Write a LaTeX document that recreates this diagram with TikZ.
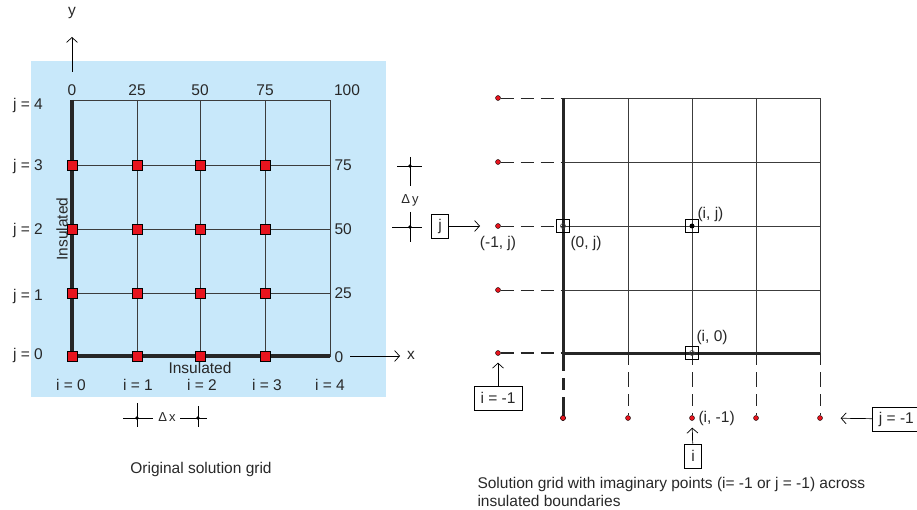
\documentclass[tikz,border=0pt]{standalone}
\usepackage{fontspec}
\setmainfont{Liberation Sans}
\usetikzlibrary{positioning,arrows.meta}
\definecolor{paleblue}{RGB}{200,232,250}
\definecolor{nodered}{RGB}{232,20,30}
\definecolor{gridgray}{RGB}{60,60,60}
\definecolor{inkgray}{RGB}{40,40,40}

\begin{document}
\begin{tikzpicture}[
        x=1pt,
        y=-1pt,
        font=\fontsize{15.5}{17}\selectfont,
        text=inkgray,
        >={Straight Barb[length=5pt,width=11pt]},
        heat/.style={
            rectangle,
            draw=black,
            fill=nodered,
            minimum size=10pt,
            inner sep=0pt,
            line width=0.6pt
        },
        ghost/.style={
            circle,
            draw=black,
            fill=nodered,
            minimum size=5pt,
            inner sep=0pt,
            line width=0.4pt
        },
        tagbox/.style={
            rectangle,
            draw=black,
            inner xsep=6.5pt,
            minimum height=24pt,
            line width=0.8pt
        },
        focus/.style={
            rectangle,
            draw=black,
            minimum size=13pt,
            inner sep=0pt,
            line width=0.8pt
        },
        gridline/.style={
            draw=gridgray,
            line width=0.8pt
        },
        edge/.style={
            draw=black!85,
            line width=3.5pt
        },
        imag/.style={
            draw=black!85,
            dash pattern=on 13pt off 7pt,
            line width=0.8pt
        },
        line/.style={
            draw=black,
            line width=0.7pt,
            ->
        },
      ]
        \useasboundingbox (0,0) rectangle (917,510);

        % original grid
        \fill [paleblue] (31,61) rectangle (386,397);
        \draw [gridline] (72,100) rectangle (330,356);
        \draw [gridline] (137,100) -- (137,356) (200,100) -- (200,356) (265,100) -- (265,356)
            (72,165) -- (330,165) (72,229) -- (330,229) (72,293) -- (330,293);
        \draw [edge] (72,100) -- (72,356) -- (330,356);
        \foreach \i/\x in {0/72,1/137,2/200,3/265}
            \foreach \j/\y in {0/356,1/293,2/229,3/165}
                \node [heat] (t-\i-\j) at (\x,\y) {};

        \node (top-0) at (72,90) {0};
        \node (top-25) at (137,90) {25};
        \node (top-50) at (200,90) {50};
        \node (top-75) at (265,90) {75};
        \node (top-100) at (347,90) {100};
        \node [anchor=west] (side-75) at (331,165) {75};
        \node [anchor=west] (side-50) at (331,229) {50};
        \node [anchor=west] (side-25) at (331,293) {25};
        \node [anchor=west] (side-0) at (331,357) {0};
        \node (row-4) at (28,105) {j = 4};
        \node (row-3) at (28,166) {j = 3};
        \node (row-2) at (28,230) {j = 2};
        \node (row-1) at (28,296) {j = 1};
        \node (row-0) at (28,355) {j = 0};
        \node (col-0) at (71,385) {i = 0};
        \node (col-1) at (138,385) {i = 1};
        \node (col-2) at (202,385) {i = 2};
        \node (col-3) at (267,385) {i = 3};
        \node (col-4) at (330,385) {i = 4};
        \node (insulated-bottom) at (200,368) {Insulated};
        \node [rotate=90] (insulated-left) at (62,229) {Insulated};

        \coordinate (y-base) at (72,72);
        \coordinate (y-tip) at (72,37);
        \node (y-label) at (72,13) {y};
        \path [line] (y-base) -- (y-tip);
        \coordinate (x-base) at (350,356);
        \coordinate (x-tip) at (400,356);
        \node (x-label) at (411,355) {x};
        \path [line] (x-base) -- (x-tip);

        % spacing marks
        \draw [line width=0.6pt] (123,418) -- (153,418) (137,403) -- (137,427)
            (180,418) -- (207,418) (198,406) -- (198,427);
        \fill (137,418) circle (1.8pt) (198,418) circle (1.8pt);
        \node [font=\fontsize{13}{15}\selectfont] (dx-label) at (167,417) {Δ\,x};
        \draw [line width=0.6pt] (397,166) -- (422,166) (410,157) -- (410,186)
            (392,227) -- (422,227) (410,212) -- (410,242);
        \fill (410,166) circle (1.8pt) (410,227) circle (1.8pt);
        \node [font=\fontsize{13}{15}\selectfont] (dy-label) at (410,200) {Δ\,y};

        \node (left-caption) at (201,469) {Original solution grid};

        % grid with imaginary points
        \draw [gridline] (563,98) rectangle (820,353);
        \draw [gridline] (628,98) -- (628,353) (692,98) -- (692,353) (756,98) -- (756,353)
            (563,162) -- (820,162) (563,226) -- (820,226) (563,290) -- (820,290);
        \draw [edge,line width=3pt] (563,98) -- (563,353) -- (820,353);

        \node [ghost] (ghost-4) at (498,98) {};
        \node [ghost] (ghost-3) at (498,162) {};
        \node [ghost] (ghost-2) at (498,226) {};
        \node [ghost] (ghost-1) at (498,290) {};
        \node [ghost] (ghost-0) at (498,353) {};
        \node [ghost] (ghost-i0) at (563,418) {};
        \node [ghost] (ghost-i1) at (628,418) {};
        \node [ghost] (ghost-i2) at (692,418) {};
        \node [ghost] (ghost-i3) at (756,418) {};
        \node [ghost] (ghost-i4) at (820,418) {};

        \path [imag] (ghost-4) -- (563,98);
        \path [imag] (ghost-3) -- (563,162);
        \path [imag] (ghost-2) -- (563,226);
        \path [imag] (ghost-1) -- (563,290);
        \path [imag,line width=2.5pt] (ghost-0) -- (563,353);
        \path [imag,line width=3pt,dash pattern=on 18pt off 7pt on 12pt off 7pt on 30pt off 0pt] (563,353) -- (ghost-i0.center);
        \path [imag,dash pattern=on 12pt off 7pt on 15pt off 7pt] (628,353) -- (ghost-i1);
        \path [imag,dash pattern=on 12pt off 7pt on 15pt off 7pt] (692,353) -- (ghost-i2);
        \path [imag,dash pattern=on 12pt off 7pt on 15pt off 7pt] (756,353) -- (ghost-i3);
        \path [imag,dash pattern=on 12pt off 7pt on 15pt off 7pt] (820,353) -- (ghost-i4);
        \node [ghost] at (ghost-i0) {};

        \node [focus] (point-0j) at (563,226) {};
        \draw [gridgray,line width=0.6pt] (point-0j.center) circle (2.5pt);
        \node [focus] (point-ij) at (692,226) {};
        \fill (point-ij.center) circle (2.5pt);
        \node [focus] (point-i0) at (692,353) {};
        \draw [gridgray,line width=0.6pt] (point-i0.center) circle (2.5pt);

        \node [anchor=west] (label-ij) at (694,214) {(i, j)};
        \node [anchor=west] (label-0j) at (567,243) {(0, j)};
        \node (label-m1j) at (498,243) {(-1, j)};
        \node [anchor=west] (label-i0) at (693,337) {(i, 0)};
        \node [anchor=west] (label-im1) at (695,418) {(i, -1)};

        \node [tagbox] (j-tag) at (440,226) {j};
        \coordinate (j-tip) at (480,226);
        \path [line] (j-tag) -- (j-tip);
        \node [tagbox] (im1-tag) at (498,398) {i = -1};
        \path [line,shorten >=7pt] (im1-tag) -- (ghost-0);
        \node [tagbox] (i-tag) at (693,456) {i};
        \path [line,shorten >=7pt] (i-tag) -- (ghost-i2);
        \node [tagbox,anchor=west] (jm1-tag) at (872,419) {j = -1};
        \path [line,shorten >=18pt] (jm1-tag) -- (ghost-i4);

        \node [anchor=west,align=left,font=\fontsize{15.5}{18}\selectfont] (right-caption) at (474,492)
            {Solution grid with imaginary points (i= -1 or j = -1) across\\insulated boundaries};
      \end{tikzpicture}
\end{document}
